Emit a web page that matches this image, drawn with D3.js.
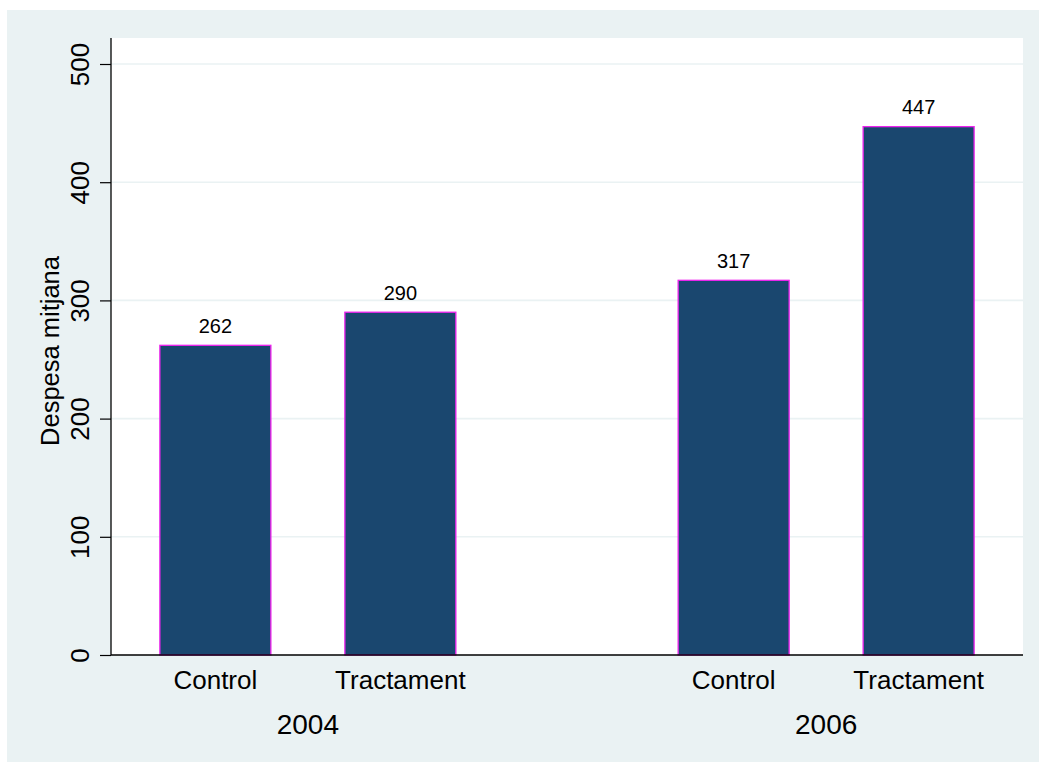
<!DOCTYPE html>
<html>
<head>
<meta charset="utf-8">
<script src="https://cdn.jsdelivr.net/npm/d3@7"></script>
<style>
  html, body { margin: 0; padding: 0; background: #ffffff; }
  svg { display: block; font-family: Arial, "Liberation Sans", Helvetica, sans-serif; }
</style>
</head>
<body>
<svg id="chart" width="1039" height="762"></svg>
<script>
// ---- Data ----
const years = ["2004", "2006"];
const groups = ["Control", "Tractament"];
const values2004 = [262, 290];
const values2006 = [317, 447];
const yTicks = [0, 100, 200, 300, 400, 500];
const yTitle = "Despesa mitjana";

const seriesByYear = { "2004": values2004, "2006": values2006 };
const rows = [];
years.forEach(y => groups.forEach((g, i) => rows.push({ year: y, group: g, value: seriesByYear[y][i] })));

// ---- Layout ----
const W = 1039, H = 762;
const plot = { left: 111, right: 1023, top: 38, bottom: 655 };

const svg = d3.select("#chart");

// outer background
svg.append("rect")
  .attr("x", 7).attr("y", 10)
  .attr("width", W - 7).attr("height", H - 10)
  .attr("fill", "#eaf2f3");

// plot region
svg.append("rect")
  .attr("x", plot.left).attr("y", plot.top)
  .attr("width", plot.right - plot.left).attr("height", plot.bottom - plot.top)
  .attr("fill", "#ffffff");

const y = d3.scaleLinear().domain([0, 500]).range([plot.bottom, 64]);

const xOuter = d3.scaleBand().domain(years)
  .range([plot.left, plot.right])
  .paddingInner(0.4289).paddingOuter(0.0943);
const xInner = d3.scaleBand().domain(groups)
  .range([0, xOuter.bandwidth()])
  .paddingInner(0.4).paddingOuter(0);

// grid lines
svg.append("g").selectAll("line")
  .data(yTicks.filter(t => t > 0))
  .join("line")
  .attr("x1", plot.left).attr("x2", plot.right)
  .attr("y1", d => y(d)).attr("y2", d => y(d))
  .attr("stroke", "#eaf2f3").attr("stroke-width", 1.6);

// bars
svg.append("g").selectAll("rect")
  .data(rows)
  .join("rect")
  .attr("x", d => xOuter(d.year) + xInner(d.group))
  .attr("y", d => y(d.value))
  .attr("width", xInner.bandwidth())
  .attr("height", d => y(0) - y(d.value))
  .attr("fill", "#1a476f")
  .attr("stroke", "#ee22ee")
  .attr("stroke-width", 1.3);

// value labels
svg.append("g").selectAll("text")
  .data(rows)
  .join("text")
  .attr("x", d => xOuter(d.year) + xInner(d.group) + xInner.bandwidth() / 2)
  .attr("y", d => y(d.value) - 12.5)
  .attr("text-anchor", "middle")
  .attr("font-size", 20)
  .attr("fill", "#000")
  .text(d => d.value);

// y axis
const yAxis = d3.axisLeft(y).tickValues(yTicks).tickSize(11).tickPadding(0).tickFormat(d3.format("d"));
const gy = svg.append("g").attr("transform", `translate(${plot.left},0)`).call(yAxis);
gy.select(".domain").remove();
gy.selectAll(".tick line").attr("stroke", "#000").attr("stroke-width", 1.2);
gy.selectAll(".tick text").remove();
gy.selectAll(".tick").append("text")
  .attr("transform", "translate(-22,0) rotate(-90)")
  .attr("text-anchor", "middle")
  .attr("font-size", 26)
  .attr("fill", "#000")
  .attr("font-family", "Arial, 'Liberation Sans', sans-serif")
  .text(d => d);

// axis lines
svg.append("line")
  .attr("x1", plot.left).attr("x2", plot.left)
  .attr("y1", plot.top).attr("y2", plot.bottom)
  .attr("stroke", "#000").attr("stroke-width", 1.3);
svg.append("line")
  .attr("x1", plot.left).attr("x2", plot.right)
  .attr("y1", plot.bottom).attr("y2", plot.bottom)
  .attr("stroke", "#000").attr("stroke-width", 1.3);

// y title
svg.append("text")
  .attr("transform", `translate(59,${(plot.top + plot.bottom) / 2 + 4.5}) rotate(-90)`)
  .attr("text-anchor", "middle")
  .attr("font-size", 25.5)
  .attr("fill", "#000")
  .text(yTitle);

// group labels
svg.append("g").selectAll("text")
  .data(rows)
  .join("text")
  .attr("x", d => xOuter(d.year) + xInner(d.group) + xInner.bandwidth() / 2)
  .attr("y", 689)
  .attr("text-anchor", "middle")
  .attr("font-size", 26)
  .attr("fill", "#000")
  .text(d => d.group);

// year labels
svg.append("g").selectAll("text")
  .data(years)
  .join("text")
  .attr("x", d => xOuter(d) + xOuter.bandwidth() / 2)
  .attr("y", 734)
  .attr("text-anchor", "middle")
  .attr("font-size", 28)
  .attr("fill", "#000")
  .text(d => d);
</script>
</body>
</html>
